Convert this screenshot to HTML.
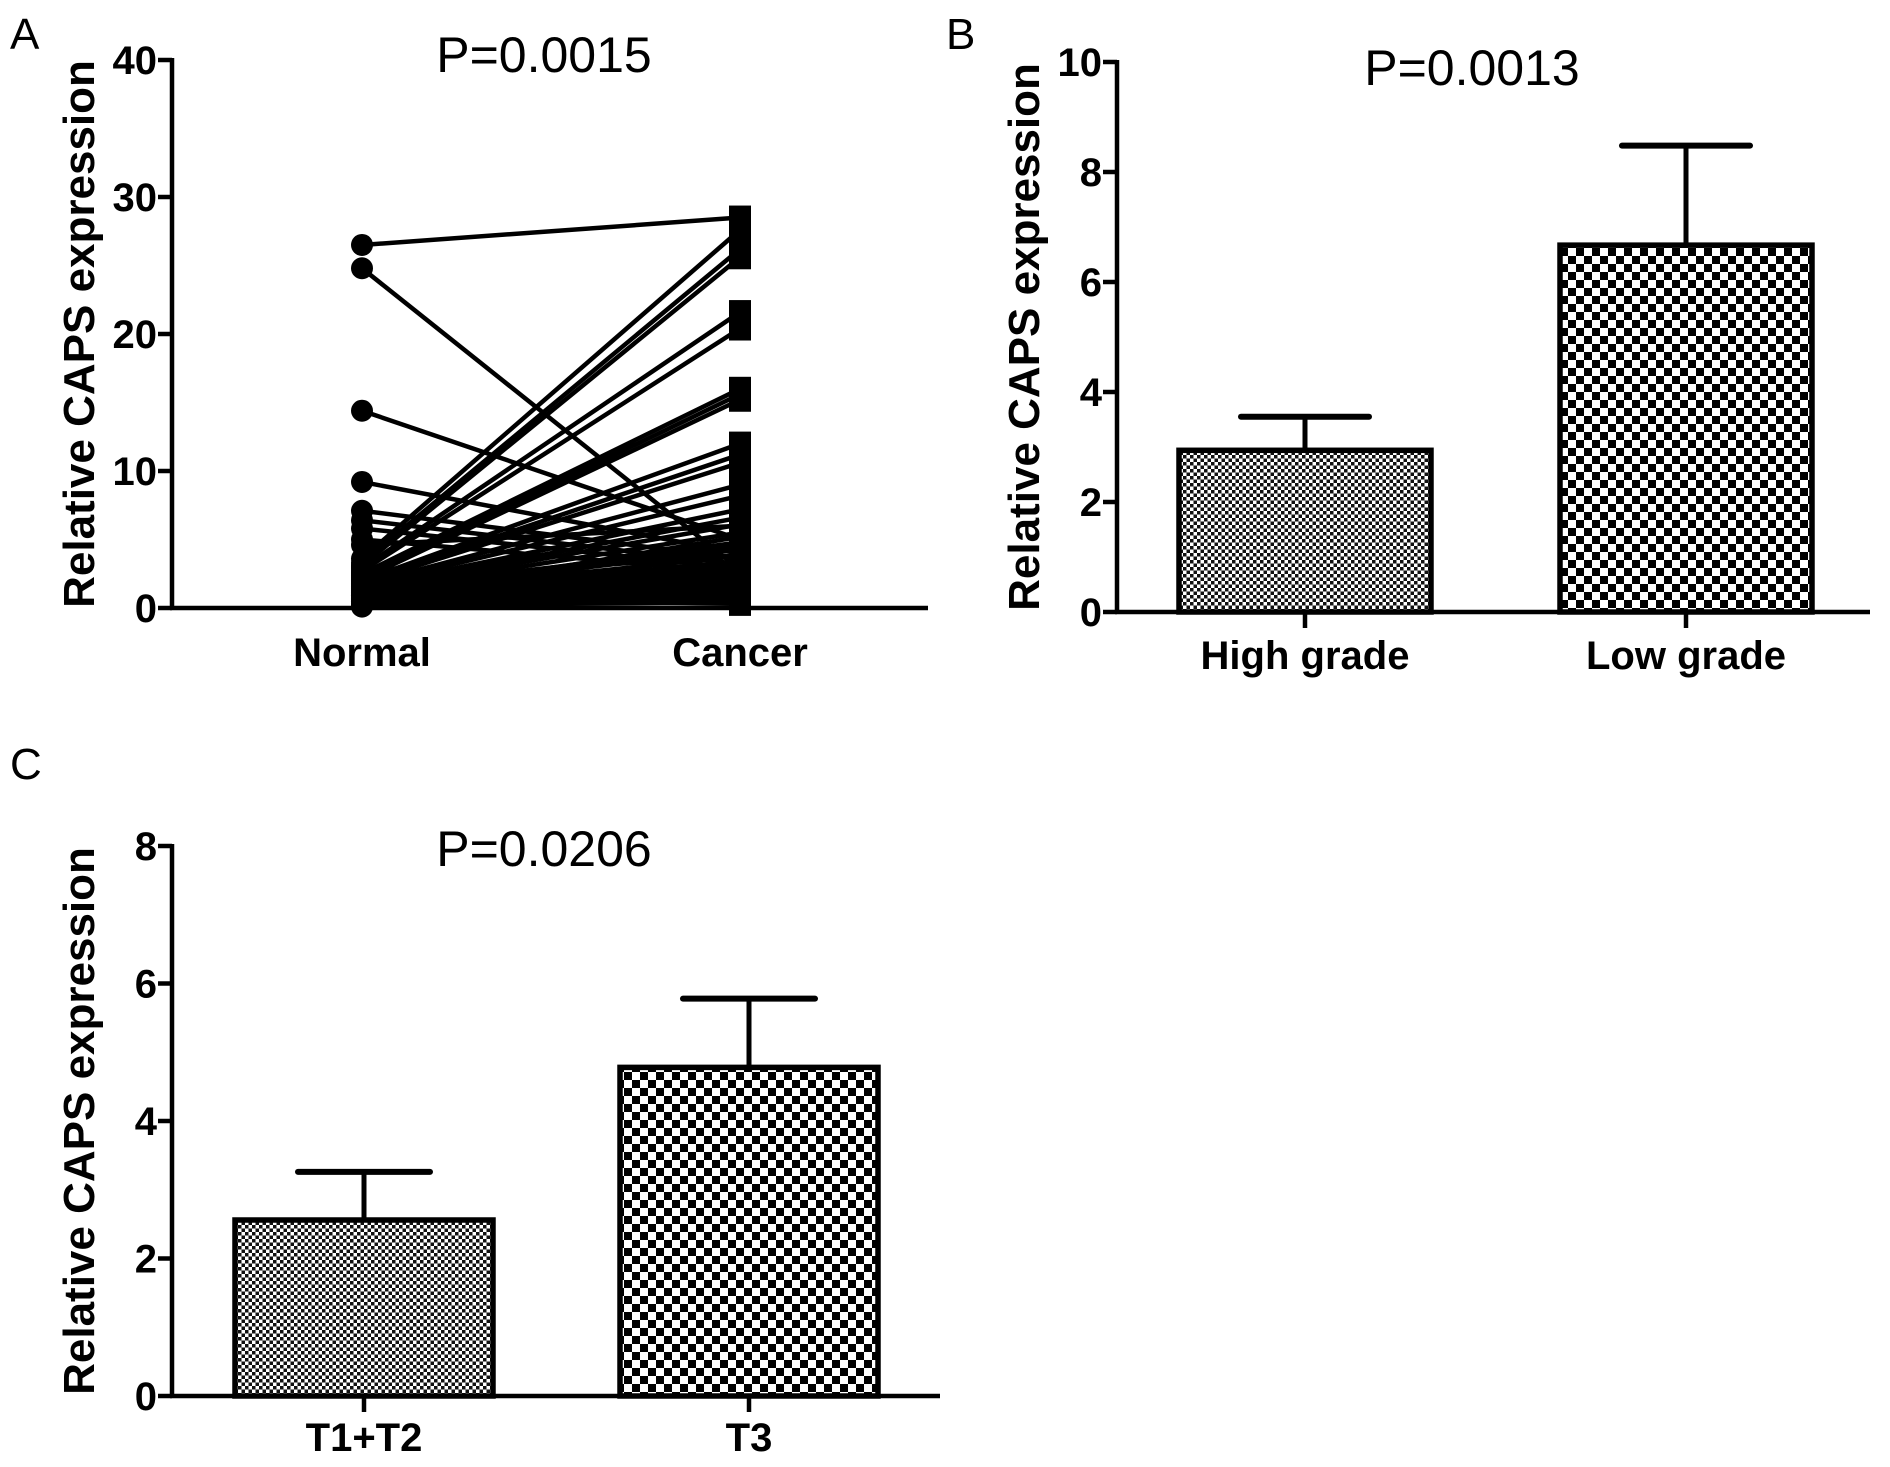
<!DOCTYPE html>
<html><head><meta charset="utf-8"><style>
html,body{margin:0;padding:0;background:#fff;}
svg{display:block;}
text{font-family:"Liberation Sans",Arial,sans-serif;fill:#000;}
.tk{font-weight:bold;font-size:40px;}
.yt{font-weight:bold;font-size:44px;}
.pt{font-size:50px;}
.pl{font-size:44px;}
</style></head><body>
<svg id="fig" width="1890" height="1467" viewBox="0 0 1890 1467">
<defs>
<pattern id="fine" width="7" height="7" patternUnits="userSpaceOnUse">
<rect width="7" height="7" fill="#fff"/><rect width="3.5" height="3.5" fill="#111"/><rect x="3.5" y="3.5" width="3.5" height="3.5" fill="#111"/>
</pattern>
<pattern id="coarse" width="16" height="16" patternUnits="userSpaceOnUse">
<rect width="16" height="16" fill="#fff"/><rect width="8" height="8" fill="#000"/><rect x="8" y="8" width="8" height="8" fill="#000"/>
</pattern>
</defs>
<text class="pl" x="10" y="49">A</text>
<text class="pl" x="946" y="49">B</text>
<text class="pl" x="10" y="779">C</text>
<g id="pa"></g>
<g id="pb"></g>
<g id="pc"></g>
</svg>
<script>
// Panel A data
const aCategories = ["Normal","Cancer"];
const aNormal = [26.5,24.8,14.4,9.2,7.1,6.4,5.8,5.0,4.6,3.6,3.3,3.1,2.9,2.7,2.5,2.3,2.1,2.0,1.9,1.8,1.7,1.6,1.5,1.4,1.3,1.2,1.1,1.0,0.9,0.9,0.8,0.8,0.7,0.7,0.6,0.6,0.5,0.5,0.4,0.4,0.3,0.3,0.2,0.2,0.1,1.0,1.5,2.2,0.6,1.2,2.6,0.8,1.8,0.4,3.0,1.1,0.7,1.4,0.9,2.4];
const aCancer = [28.5,2.8,5.0,4.0,3.6,3.2,2.9,2.6,6.0,27.6,26.2,25.6,21.6,20.4,16.0,15.6,15.2,12.0,11.2,10.6,9.0,8.2,7.2,6.6,6.1,5.5,4.8,4.3,3.8,3.4,3.0,2.7,2.4,2.2,2.0,1.8,1.6,1.4,1.2,1.0,0.8,0.6,0.4,3.3,2.5,1.1,1.9,0.9,5.2,0.5,2.1,1.3,3.9,0.7,1.5,2.3,0.3,4.5,1.7,2.8];
const aTicks = [0,10,20,30,40];
// Panel B data
const bCategories = ["High grade","Low grade"];
const bMeans = [2.94,6.67];
const bErr = [3.55,8.48];
const bTicks = [0,2,4,6,8,10];
// Panel C data
const cCategories = ["T1+T2","T3"];
const cMeans = [2.56,4.78];
const cErr = [3.26,5.78];
const cTicks = [0,2,4,6,8];

const NS="http://www.w3.org/2000/svg";
function mk(tag,attrs,parent){const e=document.createElementNS(NS,tag);for(const k in attrs)e.setAttribute(k,attrs[k]);parent.appendChild(e);return e;}

function axes(g,cfg,ticks,title,ptext,cats,y){
  const ax=mk('line',{x1:cfg.ax,y1:cfg.top-2,x2:cfg.ax,y2:cfg.zero+2,stroke:'#000','stroke-width':4.5},g);
  
  
  const xl=mk('line',{x1:cfg.ax-2,y1:cfg.zero,x2:cfg.xend,y2:cfg.zero,stroke:'#000','stroke-width':4.5},g);
  
  
  ticks.forEach(t=>{
    const ty=y(t);
    const tl=mk('line',{x1:cfg.ax-14,y1:ty,x2:cfg.ax,y2:ty,stroke:'#000','stroke-width':4.5},g);
    
    
    const tx=mk('text',{x:cfg.ax-15,y:ty+14,'text-anchor':'end',class:'tk'},g);
    
    
    tx.textContent=t;
  });
  const yt=mk('text',{x:0,y:0,class:'yt','text-anchor':'middle',transform:`translate(${cfg.ax-78},${(cfg.top+cfg.zero)/2}) rotate(-90)`},g);
  
  
  yt.textContent=title;
  const p=mk('text',{x:cfg.px,y:cfg.py,'text-anchor':'middle',class:'pt'},g);
  
  
  p.textContent=ptext;
  cats.forEach((c,i)=>{
    const cx=cfg.cx[i];
    if(cfg.xticks){
      const tl=mk('line',{x1:cx,y1:cfg.zero,x2:cx,y2:cfg.zero+16,stroke:'#000','stroke-width':4.5},g);
      
      
    }
    const tx=mk('text',{x:cx,y:cfg.zero+cfg.lab,'text-anchor':'middle',class:'tk'},g);
    
    
    tx.textContent=c;
  });
}

// Panel A
(function(){
  const g=document.getElementById('pa');
  const cfg={ax:172,top:60,zero:608,xend:928,cx:[362,740],px:544,py:72,lab:58,xticks:false};
  const y=v=>cfg.zero-(v/40)*(cfg.zero-cfg.top);
  axes(g,cfg,aTicks,'Relative CAPS expression','P=0.0015',aCategories,y);
  aNormal.forEach((n,i)=>{
    const l=mk('line',{x1:cfg.cx[0],y1:y(n),x2:cfg.cx[1],y2:y(aCancer[i]),stroke:'#000','stroke-width':4.5},g);
    
    
  });
  aNormal.forEach(n=>{
    const c=mk('circle',{cx:cfg.cx[0],cy:y(n),r:11,fill:'#000'},g);
    
    
  });
  aCancer.forEach(v=>{
    const r=mk('rect',{x:cfg.cx[1]-11,y:y(v)-12,width:22,height:24,fill:'#000'},g);
    
    
  });
})();

function barPanel(id,cfg,ticks,cats,means,errs,max,ptext){
  const g=document.getElementById(id);
  const y=v=>cfg.zero-(v/max)*(cfg.zero-cfg.top);
  axes(g,cfg,ticks,'Relative CAPS expression',ptext,cats,y);
  const fills=['url(#fine)','url(#coarse)'];
  means.forEach((m,i)=>{
    const cx=cfg.cx[i];
    const e=mk('line',{x1:cx,y1:y(errs[i]),x2:cx,y2:y(m),stroke:'#000','stroke-width':5},g);
    
    
    const cap=mk('line',{x1:cx-cfg.cap,y1:y(errs[i]),x2:cx+cfg.cap,y2:y(errs[i]),stroke:'#000','stroke-width':6,'stroke-linecap':'round'},g);
    
    
    const r=mk('rect',{x:cx-cfg.bw/2,y:y(m),width:cfg.bw,height:cfg.zero-y(m),fill:fills[i],stroke:'#000','stroke-width':5.5},g);
    
    
  });
}
barPanel('pb',{ax:1117,top:62,zero:612,xend:1870,cx:[1305,1686],px:1472,py:85,lab:57,xticks:true,bw:252,cap:64},bTicks,bCategories,bMeans,bErr,10,'P=0.0013');
barPanel('pc',{ax:172,top:846,zero:1396,xend:940,cx:[364,749],px:544,py:866,lab:55,xticks:true,bw:258,cap:66},cTicks,cCategories,cMeans,cErr,8,'P=0.0206');
</script>
</body></html>
